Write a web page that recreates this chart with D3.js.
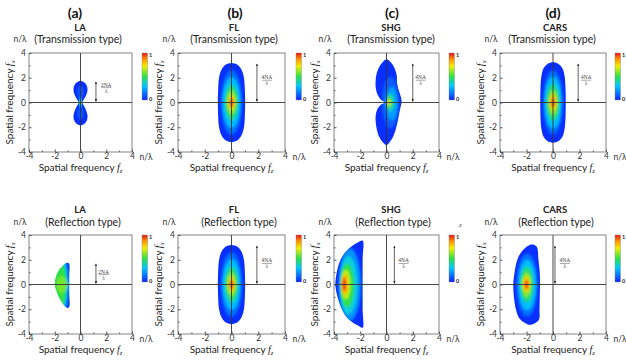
<!DOCTYPE html>
<html>
<head>
<meta charset="utf-8">
<script src="https://cdn.jsdelivr.net/npm/d3@7"></script>
<style>
  body { margin: 0; background: #fff; }
  svg { display: block; font-family: Lato, 'Open Sans', sans-serif; }
</style>
</head>
<body>
<svg id="fig" width="626" height="363"></svg>
<script>
// ---- text / ticks ----
const majorTicks = [-4, -2, 0, 2, 4];
const minorTicks = [-3, -1, 1, 3];
const headers = ['(a)', '(b)', '(c)', '(d)'];
const methods = ['LA', 'FL', 'SHG', 'CARS'];
const rowTypes = ['(Transmission type)', '(Reflection type)'];

// colour bar, blue (0) -> red (1)
const jetStops = [0, 0.3, 0.5, 0.72, 0.88, 1];
const jetColors = ['#0a24ff', '#00c8ff', '#2ee048', '#f2f000', '#ff8a00', '#e8101a'];

// ---- shapes, points are [fz, fx] in n/lambda ----
const laTransUpper = [[0.1, 0], [0.25, 0.25], [0.42, 0.55], [0.54, 0.95], [0.51, 1.3], [0.37, 1.55],
  [0.17, 1.7], [0, 1.75], [-0.17, 1.7], [-0.37, 1.55], [-0.51, 1.3], [-0.54, 0.95], [-0.42, 0.55], [-0.25, 0.25], [-0.1, 0]];
const laTransLower = [[0.1, 0], [0.25, -0.25], [0.42, -0.6], [0.54, -1.0], [0.51, -1.4], [0.37, -1.65],
  [0.17, -1.8], [0, -1.85], [-0.17, -1.8], [-0.37, -1.65], [-0.51, -1.4], [-0.54, -1.0], [-0.42, -0.6], [-0.25, -0.25], [-0.1, 0]];
const laTransLevels = [
  {v: 0.08, c: [0, 0.8], r: [0.28, 0.55]},
  {v: 0.08, c: [0, -0.85], r: [0.28, 0.55]},
  {v: 0.2, c: [0, 0], r: [0.14, 0.5]},
  {v: 0.36, c: [0, 0], r: [0.1, 0.3]},
  {v: 0.58, c: [0, 0], r: [0.08, 0.17]},
  {v: 0.85, c: [0, 0], r: [0.06, 0.1]},
  {v: 1, c: [0, 0], r: [0.05, 0.06]}
];

const flOutline = [[0, 3.2], [0.45, 3.05], [0.75, 2.65], [0.93, 2.0], [1.0, 1.0], [1.02, 0], [1.0, -1.0],
  [0.93, -2.0], [0.75, -2.65], [0.45, -3.05], [0, -3.2], [-0.45, -3.05], [-0.75, -2.65], [-0.93, -2.0],
  [-1.0, -1.0], [-1.02, 0], [-1.0, 1.0], [-0.93, 2.0], [-0.75, 2.65], [-0.45, 3.05]];
const flLevels = [
  {v: 0.14, c: [0, 0], r: [0.8, 2.6]},
  {v: 0.28, c: [0, 0], r: [0.66, 2.05]},
  {v: 0.44, c: [0, 0], r: [0.5, 1.45]},
  {v: 0.6, c: [0, 0], r: [0.36, 0.98]},
  {v: 0.76, c: [0, 0], r: [0.24, 0.62]},
  {v: 0.9, c: [0, 0], r: [0.15, 0.4]},
  {v: 1, c: [0, 0], r: [0.08, 0.22]}
];

const shgTransOutline = [[0, 3.5], [0.32, 3.25], [0.58, 2.85], [0.78, 2.2], [0.8, 1.6], [0.9, 1.1],
  [1.05, 0.6], [1.15, 0.15], [1.1, -0.25], [0.98, -0.8], [0.86, -1.5], [0.72, -2.1], [0.55, -2.65],
  [0.32, -3.1], [0, -3.45], [-0.3, -3.2], [-0.57, -2.75], [-0.77, -2.0], [-0.83, -1.1], [-0.7, -0.55],
  [-0.45, -0.2], [-0.1, 0], [-0.4, 0.2], [-0.66, 0.6], [-0.82, 1.2], [-0.82, 1.9], [-0.67, 2.6], [-0.38, 3.15]];
const shgTransLevels = [
  {v: 0.1, c: [0.3, 0], r: [0.65, 2.1]},
  {v: 0.22, c: [0.4, -0.1], r: [0.48, 1.35]},
  {v: 0.38, c: [0.3, 0], r: [0.32, 0.75]},
  {v: 0.55, c: [0.22, 0], r: [0.2, 0.42]},
  {v: 0.72, c: [0.17, 0], r: [0.11, 0.2]}
];

const carsTransOutline = [[0, 3.25], [0.42, 3.12], [0.72, 2.75], [0.88, 2.1], [0.95, 1.0], [0.96, 0],
  [0.95, -1.0], [0.88, -2.1], [0.72, -2.75], [0.42, -3.12], [0, -3.25], [-0.42, -3.12], [-0.72, -2.75],
  [-0.88, -2.1], [-0.95, -1.0], [-0.96, 0], [-0.95, 1.0], [-0.88, 2.1], [-0.72, 2.75], [-0.42, 3.12]];
const carsTransLevels = [
  {v: 0.14, c: [0, 0], r: [0.76, 2.6]},
  {v: 0.28, c: [0, 0], r: [0.64, 2.1]},
  {v: 0.44, c: [0, 0], r: [0.5, 1.5]},
  {v: 0.6, c: [0, 0], r: [0.37, 1.02]},
  {v: 0.76, c: [0, 0], r: [0.25, 0.66]},
  {v: 0.9, c: [0, 0], r: [0.15, 0.42]},
  {v: 1, c: [0, 0], r: [0.08, 0.24]}
];

const laReflOutline = [[-1.0, 1.75], [-0.88, 1.65], [-0.88, 0.8], [-0.88, 0], [-0.88, -0.8], [-0.88, -1.8],
  [-1.0, -1.9], [-1.3, -1.65], [-1.6, -1.2], [-1.85, -0.6], [-2.0, 0], [-1.92, 0.6], [-1.72, 1.1], [-1.4, 1.5]];
const laReflLevels = [
  {v: 0.58, c: [-1.45, 0], r: [0.4, 0.7]},
  {v: 0.3, pts: [[-1.3, 2], [-0.6, 2], [-0.6, -2.1], [-1.3, -2.1], [-1.18, -1], [-1.05, -0.2], [-0.95, 0], [-1.05, 0.2], [-1.18, 1]]},
  {v: 0.04, pts: [[-1.12, 2], [-0.6, 2], [-0.6, -2.1], [-1.12, -2.1], [-1.03, -1], [-0.95, -0.2], [-0.9, 0], [-0.95, 0.2], [-1.03, 1]]}
];

const shgReflOutline = [[-1.82, 3.55], [-1.82, 2], [-1.82, 0], [-1.82, -2], [-1.82, -3.5], [-2.2, -3.3],
  [-2.6, -3.05], [-2.98, -2.7], [-3.35, -2.1], [-3.6, -1.45], [-3.8, -0.7], [-3.9, 0], [-3.82, 0.8],
  [-3.7, 1.4], [-3.45, 2.1], [-3.1, 2.65], [-2.65, 3.1], [-2.2, 3.4]];
const shgReflLevels = [
  {v: 0.2, c: [-2.8, 0], r: [0.85, 2.95]},
  {v: 0.34, c: [-2.9, -0.05], r: [0.68, 2.35]},
  {v: 0.5, c: [-3.0, -0.1], r: [0.52, 1.75]},
  {v: 0.66, c: [-3.1, 0], r: [0.36, 1.2]},
  {v: 0.8, c: [-3.18, 0], r: [0.25, 0.85]},
  {v: 0.92, c: [-3.22, 0], r: [0.16, 0.58]},
  {v: 1, c: [-3.23, 0], r: [0.09, 0.35]}
];

const carsReflOutline = [[-1.4, 3.2], [-1.2, 3.0], [-1.1, 2.0], [-1.0, 1.0], [-0.98, 0], [-1.0, -1.0],
  [-1.02, -2.0], [-1.05, -2.8], [-1.4, -3.15], [-1.8, -3.25], [-2.2, -3.05], [-2.56, -2.7], [-2.8, -2.0],
  [-2.95, -1.0], [-3.0, 0], [-2.9, 1.0], [-2.75, 1.8], [-2.5, 2.45], [-2.1, 2.95], [-1.75, 3.2]];
const carsReflLevels = [
  {v: 0.14, c: [-1.95, -0.05], r: [0.8, 2.55]},
  {v: 0.28, c: [-1.95, -0.05], r: [0.66, 2.05]},
  {v: 0.44, c: [-1.97, 0], r: [0.5, 1.45]},
  {v: 0.6, c: [-2.0, 0], r: [0.37, 1.0]},
  {v: 0.76, c: [-2.0, 0], r: [0.25, 0.64]},
  {v: 0.9, c: [-2.0, 0], r: [0.16, 0.42]},
  {v: 1, c: [-2.0, 0], r: [0.09, 0.24]}
];

// ---- layout ----
const colLeft = [29, 178, 334, 500];
const colRight = [132, 285, 439, 606];
const rowTop = [53, 235];
const rowBottom = [152, 334];
const headerX = [75, 235, 392, 553];
const titleX = [80, 234, 391, 555];
const subX = [[78, 234, 391, 552], [83, 239, 393, 556]];
const titleY = [31, 213];
const subY = [43, 226];
const barX = [142, 296, 449, 615];

const panels = [
  {col: 0, row: 0, outlines: [laTransUpper, laTransLower], base: 0.02, levels: laTransLevels, blur: 0.7, arrow: [1.2, 1.75], label: [2.0, 1.2], num: '2NA'},
  {col: 1, row: 0, outlines: [flOutline], base: 0.02, levels: flLevels, blur: 1.2, arrow: [1.9, 3.2], label: [2.65, 1.8], num: '4NA'},
  {col: 2, row: 0, outlines: [shgTransOutline], base: 0.02, levels: shgTransLevels, blur: 1.1, arrow: [2.0, 3.2], label: [2.6, 1.8], num: '4NA'},
  {col: 3, row: 0, outlines: [carsTransOutline], base: 0.02, levels: carsTransLevels, blur: 1.2, arrow: [1.9, 3.2], label: [2.5, 1.8], num: '4NA'},
  {col: 0, row: 1, outlines: [laReflOutline], base: 0.5, levels: laReflLevels, blur: 0.9, arrow: [1.2, 1.75], label: [1.8, 0.8], num: '2NA'},
  {col: 1, row: 1, outlines: [flOutline], base: 0.02, levels: flLevels, blur: 1.2, arrow: [1.9, 3.2], label: [2.65, 1.7], num: '4NA'},
  {col: 2, row: 1, outlines: [shgReflOutline], base: 0.02, levels: shgReflLevels, blur: 1.1, arrow: [0.6, 3.2], label: [1.3, 1.7], num: '4NA'},
  {col: 3, row: 1, outlines: [carsReflOutline], base: 0.02, levels: carsReflLevels, blur: 1.2, arrow: [0.15, 3.2], label: [0.9, 1.7], num: '4NA'}
];

const svg = d3.select('#fig');
const defs = svg.append('defs');
const jet = d3.scaleLinear().domain(jetStops).range(jetColors).interpolate(d3.interpolateRgb);
const tickFmt = d => String(d);

const grad = defs.append('linearGradient').attr('id', 'jetbar')
  .attr('x1', 0).attr('y1', 1).attr('x2', 0).attr('y2', 0);
grad.selectAll('stop').data(jetStops).join('stop')
  .attr('offset', d => d).attr('stop-color', (d, i) => jetColors[i]);

defs.append('marker').attr('id', 'head')
  .attr('viewBox', '0 0 10 10').attr('refX', 9).attr('refY', 5)
  .attr('markerWidth', 4).attr('markerHeight', 4)
  .attr('orient', 'auto-start-reverse')
  .append('path').attr('d', 'M0,1 L10,5 L0,9 z').attr('fill', '#222');

function drawPanel(p, k) {
  const x = d3.scaleLinear().domain([-4, 4]).range([colLeft[p.col], colRight[p.col]]);
  const y = d3.scaleLinear().domain([-4, 4]).range([rowBottom[p.row], rowTop[p.row]]);
  const g = svg.append('g');
  const line = d3.line().x(d => x(d[0])).y(d => y(d[1])).curve(d3.curveCatmullRomClosed.alpha(0.5));

  defs.append('filter').attr('id', 'soft' + k)
    .attr('x', '-30%').attr('y', '-30%').attr('width', '160%').attr('height', '160%')
    .append('feGaussianBlur').attr('stdDeviation', p.blur);
  defs.append('clipPath').attr('id', 'clip' + k)
    .selectAll('path').data(p.outlines).join('path').attr('d', line);

  // heat map: outline filled with base value, then soft level blobs clipped inside
  g.selectAll('path.base').data(p.outlines).join('path')
    .attr('class', 'base').attr('d', line).attr('fill', jet(p.base));
  const heat = g.append('g').attr('clip-path', `url(#clip${k})`)
    .append('g').attr('filter', `url(#soft${k})`);
  p.levels.forEach(l => {
    if (l.pts) {
      heat.append('path').attr('d', line(l.pts)).attr('fill', jet(l.v));
    } else {
      heat.append('ellipse')
        .attr('cx', x(l.c[0])).attr('cy', y(l.c[1]))
        .attr('rx', x(l.r[0]) - x(0)).attr('ry', y(0) - y(l.r[1]))
        .attr('fill', jet(l.v));
    }
  });

  // frame and zero lines
  g.append('rect')
    .attr('x', x(-4)).attr('y', y(4)).attr('width', x(4) - x(-4)).attr('height', y(-4) - y(4))
    .attr('fill', 'none').attr('stroke', '#666').attr('stroke-width', 0.8);
  g.append('line').attr('x1', x(0)).attr('x2', x(0)).attr('y1', y(4)).attr('y2', y(-4))
    .attr('stroke', '#333').attr('stroke-width', 0.9);
  g.append('line').attr('x1', x(-4)).attr('x2', x(4)).attr('y1', y(0)).attr('y2', y(0))
    .attr('stroke', '#333').attr('stroke-width', 0.9);

  // axes
  const ax = g.append('g').attr('transform', `translate(0,${y(-4)})`)
    .call(d3.axisBottom(x).tickValues(majorTicks).tickSizeInner(-2.5).tickSizeOuter(0).tickPadding(1).tickFormat(tickFmt));
  const axm = g.append('g').attr('transform', `translate(0,${y(-4)})`)
    .call(d3.axisBottom(x).tickValues(minorTicks).tickSizeInner(-1.5).tickSizeOuter(0).tickFormat(''));
  const ay = g.append('g').attr('transform', `translate(${x(-4)},0)`)
    .call(d3.axisLeft(y).tickValues(majorTicks).tickSizeInner(-2.5).tickSizeOuter(0).tickPadding(3).tickFormat(tickFmt));
  const aym = g.append('g').attr('transform', `translate(${x(-4)},0)`)
    .call(d3.axisLeft(y).tickValues(minorTicks).tickSizeInner(-1.5).tickSizeOuter(0).tickFormat(''));
  [ax, axm, ay, aym].forEach(a => {
    a.select('.domain').remove();
    a.selectAll('line').attr('stroke', '#555');
    a.selectAll('text').attr('font-size', 8.5).attr('fill', '#333').attr('font-family', 'Lato, sans-serif');
  });

  // NA arrow and fraction
  g.append('line')
    .attr('x1', x(p.arrow[0])).attr('x2', x(p.arrow[0]))
    .attr('y1', y(0) - 1).attr('y2', y(p.arrow[1]) + 1)
    .attr('stroke', '#222').attr('stroke-width', 0.7)
    .attr('marker-start', 'url(#head)').attr('marker-end', 'url(#head)');
  const fx = x(p.label[0]), fy = y(p.label[1]);
  const frac = g.append('g').attr('font-family', "'Liberation Serif', serif").attr('font-size', 5.5)
    .attr('fill', '#444').attr('text-anchor', 'middle');
  frac.append('text').attr('x', fx).attr('y', fy - 1).text(p.num);
  frac.append('line').attr('x1', fx - 5).attr('x2', fx + 5).attr('y1', fy).attr('y2', fy)
    .attr('stroke', '#555').attr('stroke-width', 0.5);
  frac.append('text').attr('x', fx).attr('y', fy + 5).text('λ');

  // colour bar
  const bt = rowTop[p.row], bh = 47, bx = barX[p.col];
  g.append('rect').attr('x', bx).attr('y', bt).attr('width', 5.5).attr('height', bh)
    .attr('fill', 'url(#jetbar)').attr('stroke', '#888').attr('stroke-width', 0.4);
  g.append('text').attr('x', bx + 7).attr('y', bt + 4).text('1')
    .attr('font-size', 5.5).attr('font-weight', 'bold').attr('fill', '#222');
  g.append('text').attr('x', bx + 7).attr('y', bt + bh + 1).text('0')
    .attr('font-size', 5.5).attr('font-weight', 'bold').attr('fill', '#222');

  // titles and axis labels
  g.append('text').attr('x', titleX[p.col]).attr('y', titleY[p.row])
    .attr('text-anchor', 'middle').attr('font-size', 9.5).attr('font-weight', 'bold').attr('fill', '#222')
    .text(methods[p.col]);
  g.append('text').attr('x', subX[p.row][p.col]).attr('y', subY[p.row])
    .attr('text-anchor', 'middle').attr('font-size', 10.5).attr('fill', '#222')
    .text(rowTypes[p.row]);
  g.append('text').attr('x', x(-4) - 9).attr('y', subY[p.row] - 1)
    .attr('text-anchor', 'middle').attr('font-size', 8.5).attr('fill', '#333').text('n/λ');
  g.append('text').attr('x', x(4) + 14).attr('y', y(-4) + 7.5)
    .attr('text-anchor', 'middle').attr('font-size', 8.5).attr('fill', '#333').text('n/λ');

  const xl = g.append('text').attr('x', (x(-4) + x(4)) / 2).attr('y', y(-4) + 18.5)
    .attr('text-anchor', 'middle').attr('font-size', 10).attr('fill', '#222');
  xl.append('tspan').text('Spatial frequency ');
  xl.append('tspan').attr('font-family', "'Liberation Serif', serif").attr('font-style', 'italic').text('f');
  xl.append('tspan').attr('font-family', "'Liberation Serif', serif").attr('font-style', 'italic')
    .attr('font-size', 6.5).attr('dy', 2).text('z');

  const yl = g.append('text')
    .attr('transform', `translate(${x(-4) - 16},${y(0)}) rotate(-90)`)
    .attr('text-anchor', 'middle').attr('font-size', 10).attr('fill', '#222');
  yl.append('tspan').text('Spatial frequency ');
  yl.append('tspan').attr('font-family', "'Liberation Serif', serif").attr('font-style', 'italic').text('f');
  yl.append('tspan').attr('font-family', "'Liberation Serif', serif").attr('font-style', 'italic')
    .attr('font-size', 6.5).attr('dy', 2).text('x');
}

panels.forEach(drawPanel);

svg.selectAll('text.header').data(headers).join('text')
  .attr('class', 'header')
  .attr('x', (d, i) => headerX[i]).attr('y', 18)
  .attr('text-anchor', 'middle').attr('font-size', 14).attr('font-weight', 'bold').attr('fill', '#111')
  .text(d => d);

// stray mark next to the SHG reflection colour bar
svg.append('text').attr('x', 459).attr('y', 227).attr('font-size', 7)
  .attr('font-family', "'Liberation Serif', serif").attr('font-style', 'italic').attr('fill', '#555').text('z');
</script>
</body>
</html>
